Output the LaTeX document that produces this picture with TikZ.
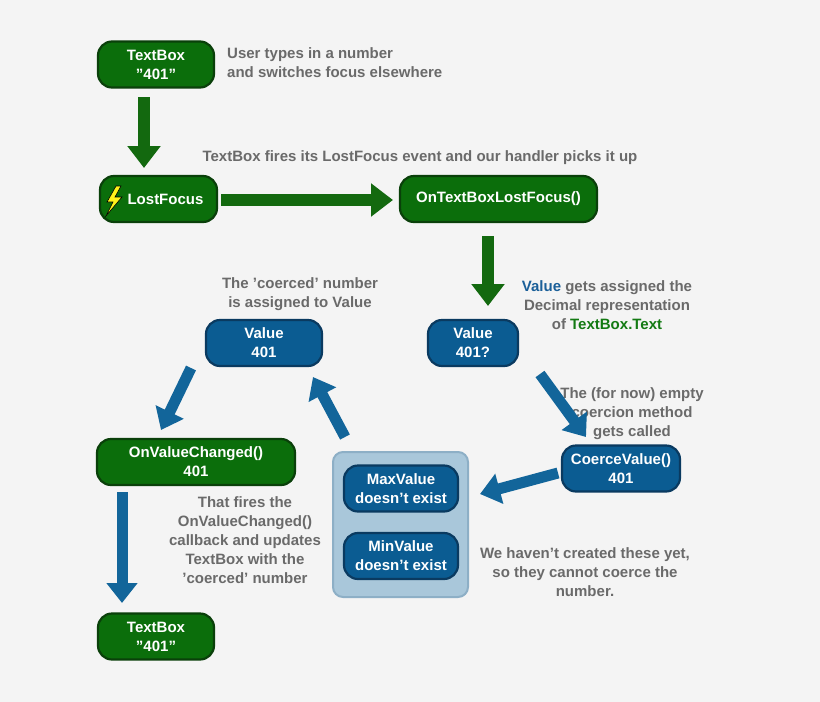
\documentclass[tikz,border=0pt]{standalone}
\usepackage{fontspec}
\setmainfont{Liberation Sans}
\usetikzlibrary{arrows.meta}
\definecolor{bg}{HTML}{F4F4F4}
\definecolor{gfill}{HTML}{0B6E0B}
\definecolor{gdraw}{HTML}{0A400A}
\definecolor{bfill}{HTML}{0B5C92}
\definecolor{bdraw}{HTML}{0A3A60}
\definecolor{garr}{HTML}{13690F}
\definecolor{barr}{HTML}{12659A}
\definecolor{lbl}{HTML}{6A6A6A}
\definecolor{boxf}{HTML}{A9C7DA}
\definecolor{boxd}{HTML}{8DAFC6}
\definecolor{valblue}{HTML}{1A5F99}
\definecolor{tbgreen}{HTML}{137A13}
\begin{document}
\begin{tikzpicture}[x=1pt,y=-1pt,
  font=\fontsize{15}{19}\selectfont\bfseries,
  box/.style={rounded corners=14pt,line width=2.2pt,text=white,align=center,inner sep=0pt,minimum height=46pt},
  gbox/.style={box,fill=gfill,draw=gdraw},
  bbox/.style={box,fill=bfill,draw=bdraw},
  lab/.style={text=lbl,align=center,inner sep=0pt},
  garrow/.style={garr,line width=12pt,-{Triangle[width=32pt,length=22pt]}},
  barrow/.style={barr,line width=11pt,-{Triangle[width=30pt,length=20pt]}}]
\fill[bg] (0,0) rectangle (820,702);
\useasboundingbox (0,0) rectangle (820,702);
\node[gbox,minimum width=116pt] (tb1) at (156,64.5) {TextBox\\"401"};
\node[lab,anchor=west,align=left] (l1) at (227,63) {User types in a number\\and switches focus elsewhere};
\node[gbox,minimum width=117pt] (lf) at (158.5,199) {\hspace{14pt}LostFocus};
\fill[yellow!90!white,draw=black,line width=0.6pt] (116,186) -- (107,202) -- (113,202) -- (106,216) -- (122,197) -- (115,197) -- (121,186) -- cycle;
\node[gbox,minimum width=197pt] (on) at (498.5,199) {OnTextBoxLostFocus()};
\node[lab] (l2) at (420,158) {TextBox fires its LostFocus event and our handler picks it up};
\node[bbox,minimum width=90pt] (v2) at (473,343) {Value\\401?};
\node[lab] (l3) at (607,305) {{\color{valblue}Value} gets assigned the\\Decimal representation\\of {\color{tbgreen}TextBox.Text}};
\node[bbox,minimum width=118pt] (cv) at (621,468.5) {CoerceValue()\\401};
\node[lab] (l4) at (632,414) {The (for now) empty\\coercion method\\gets called};
\node[rounded corners=10pt,fill=boxf,draw=boxd,line width=2pt,minimum width=135pt,minimum height=145pt] (cont) at (400.5,524.5) {};
\node[bbox,minimum width=114pt] (mx) at (401,488.5) {MaxValue\\doesn't exist};
\node[bbox,minimum width=114pt] (mn) at (401,556) {MinValue\\doesn't exist};
\node[lab] (l5) at (585,572) {We haven't created these yet,\\so they cannot coerce the\\number.};
\node[bbox,minimum width=116pt] (v1) at (264,343) {Value\\401};
\node[lab] (l6) at (300,294.5) {The 'coerced' number\\is assigned to Value};
\node[gbox,minimum width=198pt] (ovc) at (196,462) {OnValueChanged()\\401};
\node[lab] (l7) at (245,540) {That fires the\\OnValueChanged()\\callback and updates\\TextBox with the\\'coerced' number};
\node[gbox,minimum width=116pt] (tb2) at (156,636.5) {TextBox\\"401"};
\coordinate (a1s) at (144,97); \coordinate (a1e) at (144,168);
\coordinate (a2s) at (221,200); \coordinate (a2e) at (393,200);
\coordinate (a3s) at (488,236); \coordinate (a3e) at (488,306);
\coordinate (a4s) at (540,374); \coordinate (a4e) at (586,437);
\coordinate (a5s) at (558,473); \coordinate (a5e) at (480,494);
\coordinate (a6s) at (345,437); \coordinate (a6e) at (313,377);
\coordinate (a7s) at (191,368); \coordinate (a7e) at (161,430);
\coordinate (a8s) at (122,492); \coordinate (a8e) at (122,603);
\draw[garrow] (a1s) -- (a1e);
\draw[garrow] (a2s) -- (a2e);
\draw[garrow] (a3s) -- (a3e);
\draw[barrow] (a4s) -- (a4e);
\draw[barrow] (a5s) -- (a5e);
\draw[barrow] (a6s) -- (a6e);
\draw[barrow] (a7s) -- (a7e);
\draw[barrow] (a8s) -- (a8e);
\end{tikzpicture}
\end{document}
